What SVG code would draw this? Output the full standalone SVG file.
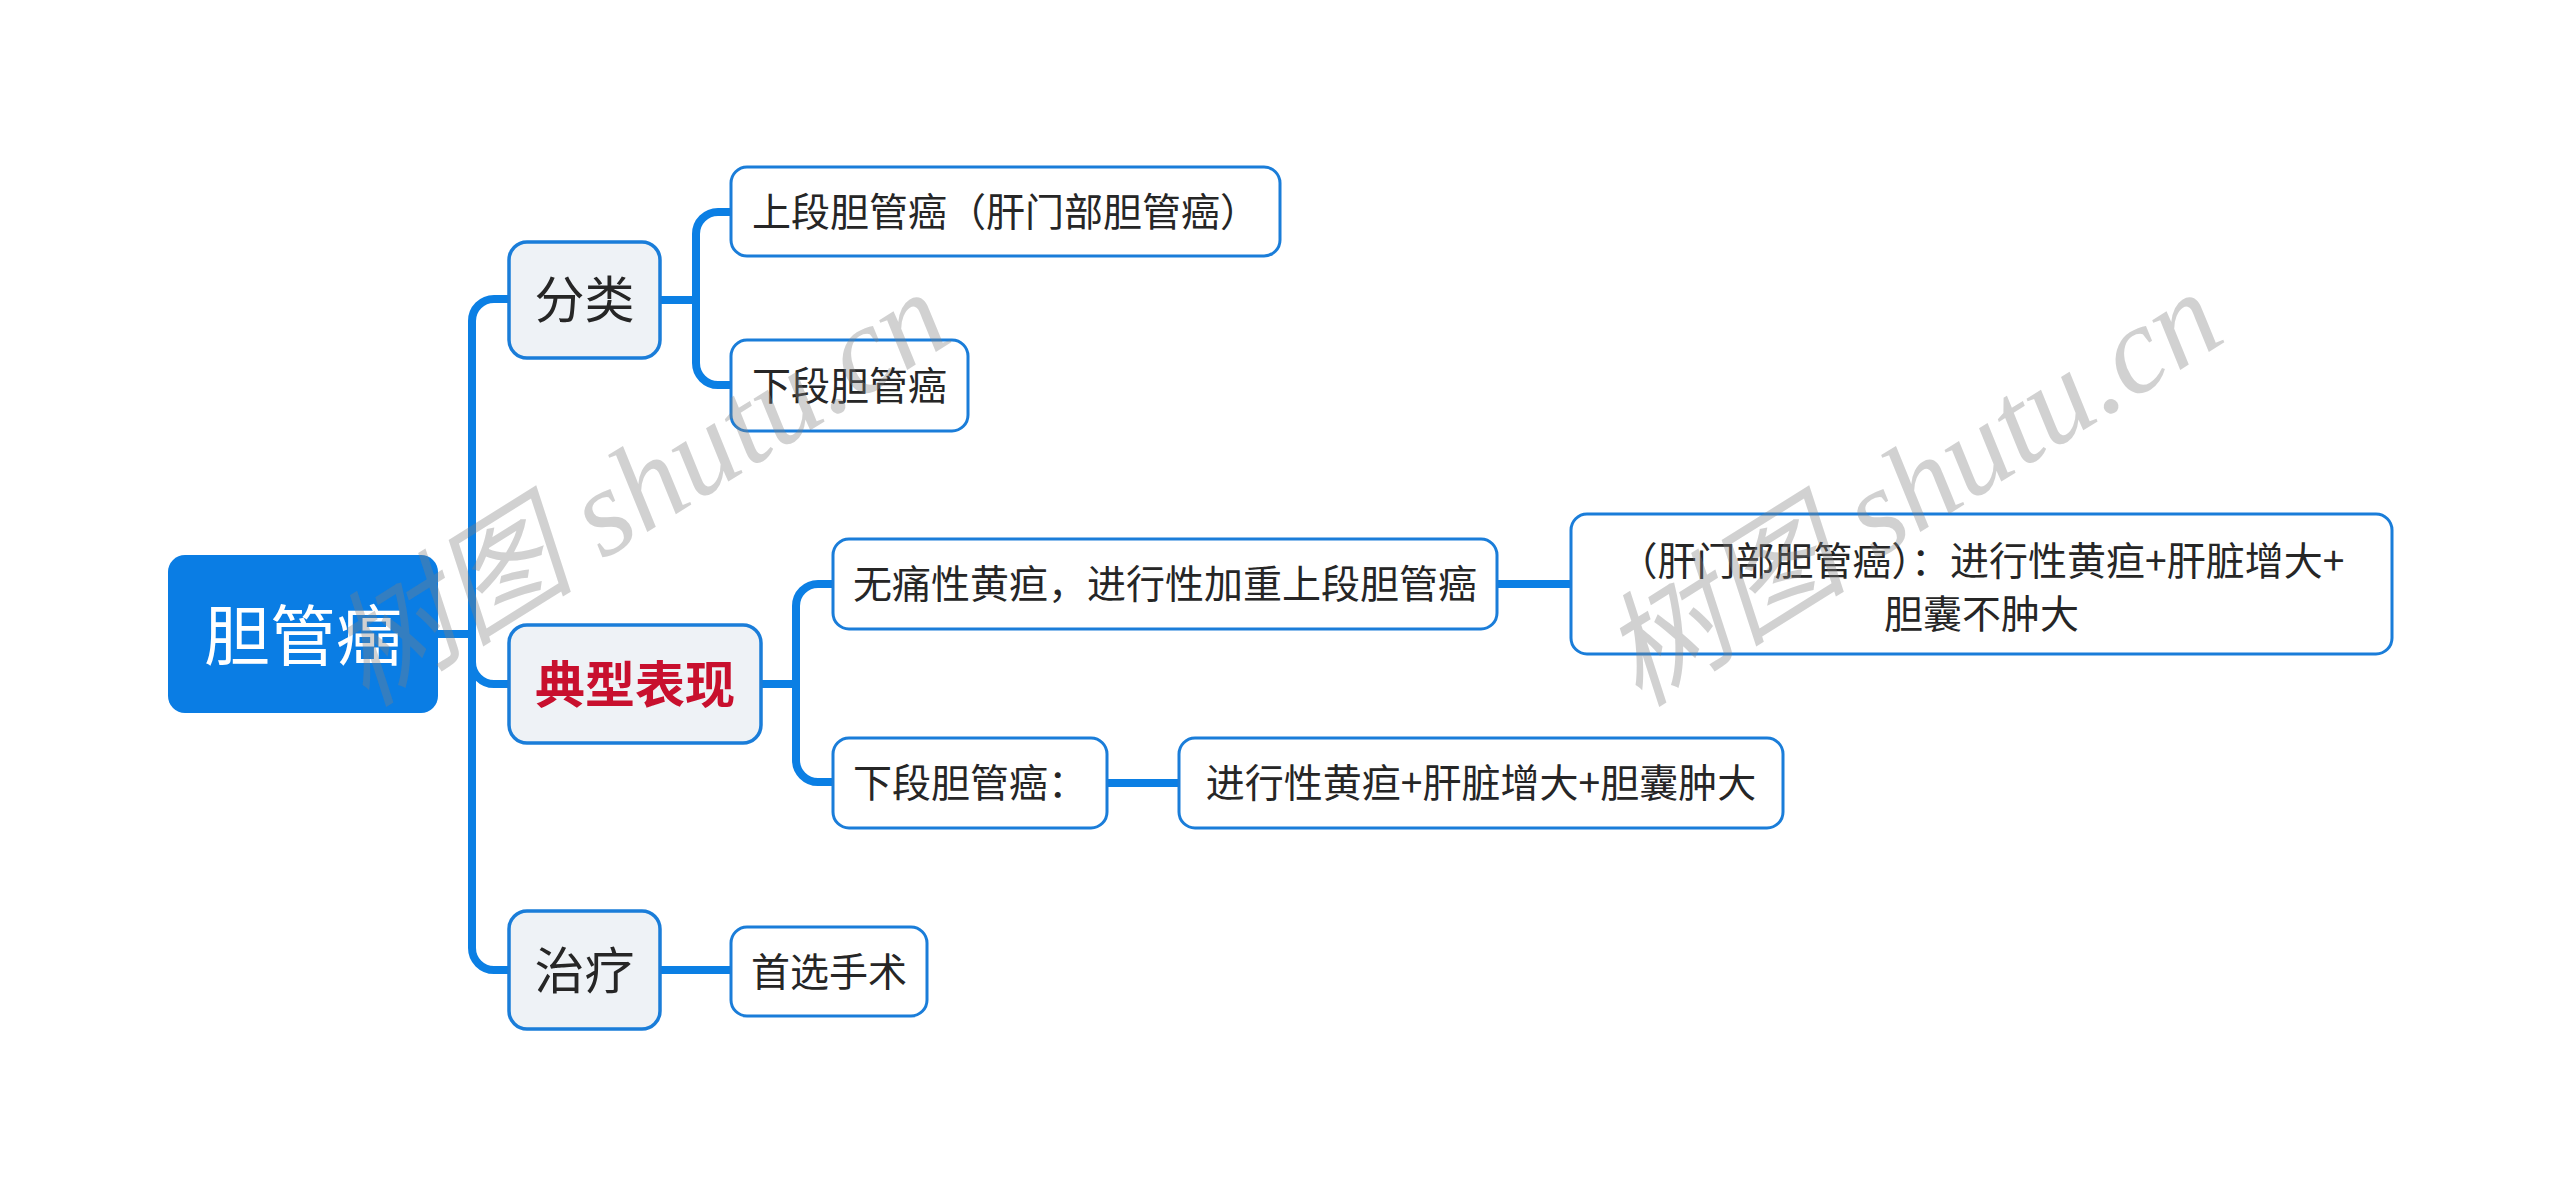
<svg xmlns="http://www.w3.org/2000/svg" width="2560" height="1196" viewBox="0 0 2560 1196">
<style>
.t{font-family:"Noto Sans CJK SC","Noto Sans",sans-serif;fill:#262626;text-anchor:middle}
.root rect{fill:#0a7de4}
.root text{fill:#ffffff;font-size:66px}
.l1 rect{fill:#eef2f6;stroke:#1a7dd9;stroke-width:3.5}
.l1 text{font-size:50px}
.l2 rect{fill:#ffffff;stroke:#1a7dd9;stroke-width:3}
.l2 text{font-size:39px}
.red{fill:#c8102e !important;font-weight:bold}
.conn path{fill:none;stroke:#0b7fe4;stroke-width:8;stroke-linecap:butt}
.wm{font-family:"Liberation Serif","Noto Sans CJK SC",serif;font-style:italic;font-size:124px;fill:#808080;fill-opacity:0.36}
</style>
<rect width="2560" height="1196" fill="#ffffff"/>
<g id="connectors" class="conn">
<path d="M436,634 H472"/>
<path d="M472,634 V321 A22,22 0 0 1 494,299 H511"/>
<path d="M472,634 V662 A22,22 0 0 0 494,684 H511"/>
<path d="M472,634 V948 A22,22 0 0 0 494,970 H511"/>
<path d="M658,300 H696"/>
<path d="M696,300 V234 A22,22 0 0 1 718,212 H733"/>
<path d="M696,300 V363 A22,22 0 0 0 718,385 H733"/>
<path d="M759,684 H796"/>
<path d="M796,684 V606 A22,22 0 0 1 818,584 H835"/>
<path d="M796,684 V760 A22,22 0 0 0 818,782 H835"/>
<path d="M658,970 H733"/>
<path d="M1495,584 H1573"/>
<path d="M1105,783 H1181"/>
</g>
<g id="node-root" class="root">
<rect x="168" y="555" width="270" height="158" rx="17"/>
<text class="t" x="303" y="660">胆管癌</text>
</g>
<g id="node-fenlei" class="l1">
<rect x="509" y="242" width="151" height="116" rx="18"/>
<text class="t" x="584.5" y="318">分类</text>
</g>
<g id="node-dianxing" class="l1">
<rect x="509" y="625" width="252" height="118" rx="18"/>
<text class="t red" x="635" y="703">典型表现</text>
</g>
<g id="node-zhiliao" class="l1">
<rect x="509" y="911" width="151" height="118" rx="18"/>
<text class="t" x="584.5" y="989">治疗</text>
</g>
<g id="node-shangduan" class="l2">
<rect x="731" y="167" width="549" height="89" rx="16"/>
<text class="t" x="1005.5" y="226">上段胆管癌（肝门部胆管癌）</text>
</g>
<g id="node-xiaduan" class="l2">
<rect x="731" y="340" width="237" height="91" rx="16"/>
<text class="t" x="849.5" y="400">下段胆管癌</text>
</g>
<g id="node-wutong" class="l2">
<rect x="833" y="539" width="664" height="90" rx="16"/>
<text class="t" x="1165" y="598">无痛性黄疸，进行性加重上段胆管癌</text>
</g>
<g id="node-xiaduan2" class="l2">
<rect x="833" y="738" width="274" height="90" rx="16"/>
<text class="t" x="970" y="797">下段胆管癌：</text>
</g>
<g id="node-shouxuan" class="l2">
<rect x="731" y="927" width="196" height="89" rx="16"/>
<text class="t" x="829" y="986">首选手术</text>
</g>
<g id="node-ganmen" class="l2">
<rect x="1571" y="514" width="821" height="140" rx="16"/>
<text class="t" x="1981.5" y="575">（肝门部胆管癌）：进行性黄疸+肝脏增大+</text>
<text class="t" x="1981.5" y="628">胆囊不肿大</text>
</g>
<g id="node-jinxing" class="l2">
<rect x="1179" y="738" width="604" height="90" rx="16"/>
<text class="t" x="1481" y="797">进行性黄疸+肝脏增大+胆囊肿大</text>
</g>
<g id="watermark">
<text class="wm" transform="translate(366,708) rotate(-32)">树图 shutu.cn</text>
<text class="wm" transform="translate(1639,708) rotate(-32)">树图 shutu.cn</text>
</g>
</svg>
